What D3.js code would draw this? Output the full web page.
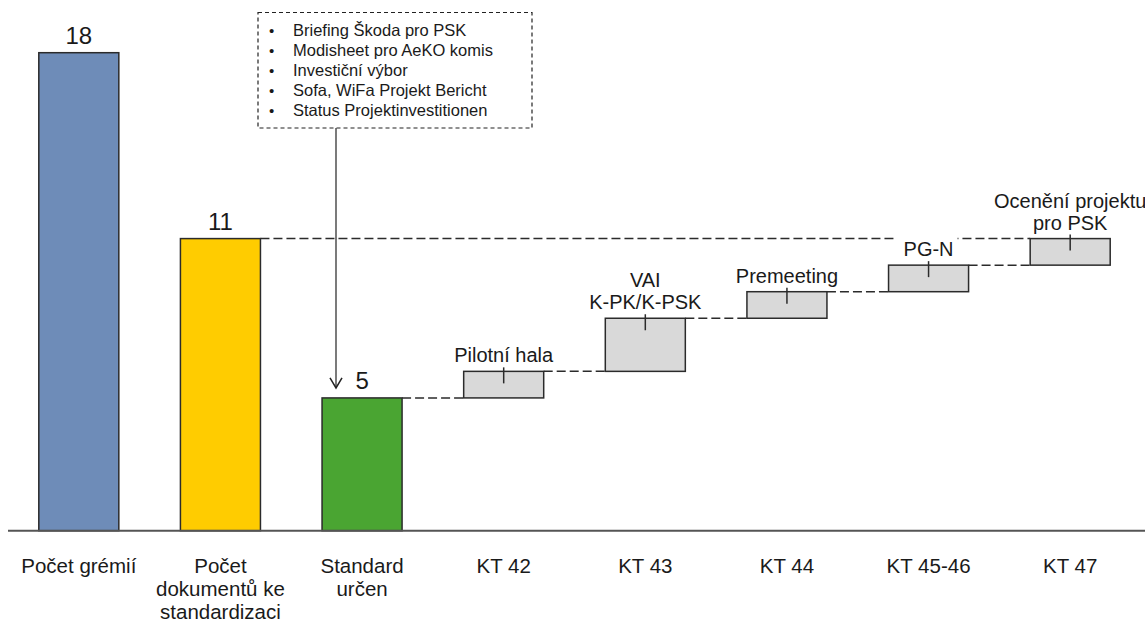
<!DOCTYPE html>
<html>
<head>
<meta charset="utf-8">
<script src="https://cdn.jsdelivr.net/npm/d3@7"></script>
<style>
  html, body { margin: 0; padding: 0; background: #fff; }
  text { font-family: "Liberation Sans", Arial, sans-serif; fill: #1a1a1a; }
</style>
</head>
<body>
<svg id="chart" width="1145" height="622"></svg>
<script>
// ---- data ----
const categories = ["Počet grémií", "Počet dokumentů ke standardizaci", "Standard určen", "KT 42", "KT 43", "KT 44", "KT 45-46", "KT 47"];
const categoryLines = [["Počet grémií"], ["Počet", "dokumentů ke", "standardizaci"], ["Standard", "určen"], ["KT 42"], ["KT 43"], ["KT 44"], ["KT 45-46"], ["KT 47"]];
const barValues = [18, 11, 5];
const barColors = ["#6E8CB8", "#FFCC00", "#4AA532"];
const stepDeltas = [1, 2, 1, 1, 1];
const stepLabels = [["Pilotní  hala"], ["VAI", "K-PK/K-PSK"], ["Premeeting"], ["PG-N"], ["Ocenění projektu", "pro PSK"]];
const annotationItems = ["Briefing Škoda pro PSK", "Modisheet pro AeKO komis", "Investiční výbor", "Sofa, WiFa Projekt Bericht", "Status Projektinvestitionen"];
const yMax = 18;

// ---- layout ----
const svg = d3.select("#chart");
const x = d3.scaleBand().domain(categories).range([8, 1141]).paddingInner(0.435).paddingOuter(0.2175);
const y = d3.scaleLinear().domain([0, yMax]).range([530.7, 52.7]);
const bw = x.bandwidth();
const strokeC = "#2b2b2b";

// waterfall steps
let base = barValues[2];
const steps = stepDeltas.map((d, i) => {
  const s = {cat: categories[3 + i], from: base, to: base + d, label: stepLabels[i]};
  base += d;
  return s;
});

// connectors (dashed)
const connectors = [];
connectors.push({x1: x(categories[2]) + bw, x2: x(steps[0].cat), v: barValues[2]});
steps.forEach((s, i) => {
  if (i < steps.length - 1) connectors.push({x1: x(s.cat) + bw, x2: x(steps[i + 1].cat), v: s.to});
});
connectors.push({x1: x(categories[1]) + bw, x2: x(steps[steps.length - 1].cat), v: barValues[1]});

svg.append("g").selectAll("line").data(connectors).join("line")
  .attr("x1", d => d.x1).attr("x2", d => d.x2)
  .attr("y1", d => y(d.v)).attr("y2", d => y(d.v))
  .attr("stroke", strokeC).attr("stroke-width", 1.5).attr("stroke-dasharray", "9,4");

// main bars
svg.append("g").selectAll("rect").data(barValues).join("rect")
  .attr("x", (d, i) => x(categories[i])).attr("width", bw)
  .attr("y", d => y(d)).attr("height", d => y(0) - y(d))
  .attr("fill", (d, i) => barColors[i]).attr("stroke", strokeC).attr("stroke-width", 1.5);

svg.append("g").selectAll("text").data(barValues).join("text")
  .attr("x", (d, i) => x(categories[i]) + bw / 2).attr("y", d => y(d) - 9)
  .attr("text-anchor", "middle").style("font-size", "24px").text(d => d);

// step boxes
svg.append("g").selectAll("rect").data(steps).join("rect")
  .attr("x", d => x(d.cat)).attr("width", bw)
  .attr("y", d => y(d.to)).attr("height", d => y(d.from) - y(d.to))
  .attr("fill", "#D9D9D9").attr("stroke", strokeC).attr("stroke-width", 1.5);

// step labels with white background
const lblG = svg.append("g");
steps.forEach(s => {
  const g = lblG.append("g");
  const n = s.label.length;
  const t = g.append("text").attr("text-anchor", "middle").style("font-size", "20px");
  s.label.forEach((line, j) => {
    t.append("tspan").attr("x", x(s.cat) + bw / 2)
      .attr("y", y(s.to) - 9 - (n - 1 - j) * 22).text(line);
  });
  const bb = t.node().getBBox();
  g.insert("rect", "text").attr("x", bb.x - 8).attr("y", bb.y - 2)
    .attr("width", bb.width + 12).attr("height", bb.height + 3).attr("fill", "#fff");
});

// tick pointers
svg.append("g").selectAll("line").data(steps).join("line")
  .attr("x1", d => x(d.cat) + bw / 2).attr("x2", d => x(d.cat) + bw / 2)
  .attr("y1", d => y(d.to) - 4).attr("y2", d => y(d.to) + 12)
  .attr("stroke", strokeC).attr("stroke-width", 1.5);

// baseline
svg.append("line").attr("x1", 8).attr("x2", 1145).attr("y1", y(0)).attr("y2", y(0))
  .attr("stroke", "#555").attr("stroke-width", 2);

// category labels
const catG = svg.append("g");
categories.forEach((c, i) => {
  const t = catG.append("text").attr("text-anchor", "middle").style("font-size", "20.5px");
  categoryLines[i].forEach((line, j) => {
    t.append("tspan").attr("x", x(c) + bw / 2).attr("y", 573 + j * 23).text(line);
  });
});

// annotation box
const ann = svg.append("g");
ann.append("rect").attr("x", 258).attr("y", 12.5).attr("width", 274).attr("height", 115.5)
  .attr("fill", "#fff").attr("stroke", "#222").attr("stroke-width", 1.2).attr("stroke-dasharray", "4,3");
annotationItems.forEach((item, j) => {
  ann.append("text").attr("x", 269).attr("y", 36 + j * 20).style("font-size", "15px").text("•");
  ann.append("text").attr("x", 293).attr("y", 36 + j * 20).style("font-size", "16.5px").text(item);
});

// arrow
const ax = 336, tipY = y(barValues[2]) - 10;
ann.append("line").attr("x1", ax).attr("x2", ax).attr("y1", 128).attr("y2", tipY)
  .attr("stroke", "#222").attr("stroke-width", 1.2);
ann.append("path").attr("d", `M${ax - 6},${tipY - 10} L${ax},${tipY} L${ax + 6},${tipY - 10}`)
  .attr("fill", "none").attr("stroke", "#222").attr("stroke-width", 1.5);
</script>
</body>
</html>
